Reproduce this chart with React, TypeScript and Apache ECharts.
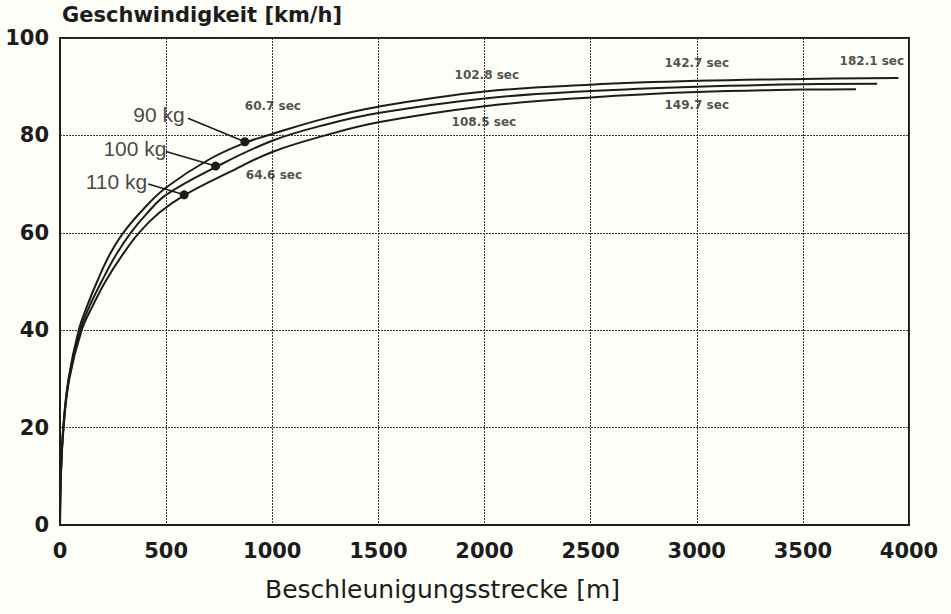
import React, { useEffect, useRef } from "react";
import * as echarts from "echarts";

// distance [m], speed [km/h]
const curve90: [number, number][] = [
  [0, 0], [4, 10], [15, 20], [40, 30], [88, 40], [128, 45], [175, 50], [230, 55.2], [298, 60],
  [400, 65.2], [500, 69.3], [700, 75.0], [873, 78.5], [1000, 80.3], [1250, 83.5], [1500, 85.9],
  [2000, 89.0], [2500, 90.4], [3000, 91.2], [3500, 91.6], [3950, 91.8],
];
const curve100: [number, number][] = [
  [0, 0], [4, 10], [16, 20], [42, 30], [95, 40], [140, 45], [196, 50], [260, 55.2], [333, 60],
  [410, 64.0], [500, 67.8], [734, 73.5], [1000, 78.9], [1250, 82.2], [1500, 84.6],
  [2000, 87.6], [2500, 89.1], [3000, 90.0], [3500, 90.5], [3850, 90.6],
];
const curve110: [number, number][] = [
  [0, 0], [4, 10], [17, 20], [44, 30], [102, 40], [154, 45], [214, 50], [290, 55.2], [372, 60],
  [470, 64.2], [585, 67.7], [800, 72.5], [1000, 76.6], [1250, 80.0], [1500, 82.7],
  [2000, 86.0], [2500, 87.8], [3000, 88.9], [3500, 89.4], [3750, 89.5],
];

const massLabels = ["90 kg", "100 kg", "110 kg"];
const massLabelPos: [number, number][] = [[466, 84.2], [353, 77.4], [266, 70.5]];
const leaderStart: [number, number][] = [[603, 83.5], [499, 76.7], [416, 70.0]];
const dots: [number, number][] = [[871, 78.7], [733, 73.7], [585, 67.8]];

const timeLabels = ["60.7 sec", "64.6 sec", "102.8 sec", "108.5 sec", "142.7 sec", "149.7 sec", "182.1 sec"];
const timeLabelPos: [number, number][] = [
  [1003, 86.0], [1008, 71.9], [2011, 92.4], [1997, 82.8], [3000, 94.9], [3000, 86.2], [3825, 95.3],
];

const xTicks = { min: 0, max: 4000, interval: 500 };
const yTicks = { min: 0, max: 100, interval: 20 };

const INK = "#1c1c1c";

export default function App() {
  const ref = useRef<HTMLDivElement>(null);
  useEffect(() => {
    if (!ref.current) return;
    const chart = echarts.init(ref.current, null, { renderer: "svg" });
    const curveSeries = [curve90, curve100, curve110].map((d) => ({
      type: "line",
      data: d,
      smooth: 0.4,
      showSymbol: false,
      symbol: "none",
      lineStyle: { color: INK, width: 2 },
      z: 3,
    }));
    const leaderSeries = dots.map((dot, i) => ({
      type: "line",
      data: [leaderStart[i], dot],
      symbol: "circle",
      symbolSize: (_v: any, p: any) => (p.dataIndex === 1 ? 9 : 0),
      showSymbol: true,
      itemStyle: { color: INK },
      lineStyle: { color: INK, width: 1.6 },
      z: 4,
    }));
    chart.setOption({
      animation: false,
      backgroundColor: "#fefef9",
      grid: {
        left: 60,
        right: 42,
        top: 38,
        bottom: 89,
        show: true,
        borderColor: INK,
        borderWidth: 2,
      },
      xAxis: {
        type: "value",
        ...xTicks,
        axisLine: { show: true, onZero: false, lineStyle: { color: INK, width: 2 } },
        axisTick: { show: false },
        splitLine: { show: true, lineStyle: { color: "#3a3a3a", width: 1, type: [2, 1] } },
        axisLabel: {
          margin: 15,
          color: INK,
          fontFamily: "DejaVu Sans",
          fontWeight: "bold",
          fontSize: 21,
          formatter: (v: number) => String(v),
        },
      },
      yAxis: {
        type: "value",
        ...yTicks,
        axisLine: { show: true, onZero: false, lineStyle: { color: INK, width: 2 } },
        axisTick: { show: false },
        splitLine: { show: true, lineStyle: { color: "#3a3a3a", width: 1, type: [2, 1] } },
        axisLabel: {
          margin: 11,
          color: INK,
          fontFamily: "DejaVu Sans",
          fontWeight: "bold",
          fontSize: 21,
        },
      },
      graphic: [
        {
          type: "text",
          left: 62,
          top: 4,
          style: {
            text: "Geschwindigkeit [km/h]",
            fill: INK,
            font: "bold 21px 'DejaVu Sans'",
          },
        },
        {
          type: "text",
          left: 265,
          top: 577,
          style: {
            text: "Beschleunigungsstrecke [m]",
            fill: INK,
            font: "25px 'DejaVu Sans'",
          },
        },
      ],
      series: [
        ...curveSeries,
        ...leaderSeries,
        {
          type: "scatter",
          data: massLabelPos.map((p, i) => ({ value: p, name: massLabels[i] })),
          symbolSize: 1,
          itemStyle: { color: "rgba(0,0,0,0)" },
          label: {
            show: true,
            position: "inside",
            formatter: (p: any) => p.name,
            color: "#151515",
            fontFamily: "Liberation Sans",
            fontSize: 21,
          },
          z: 5,
        },
        {
          type: "scatter",
          data: timeLabelPos.map((p, i) => ({ value: p, name: timeLabels[i] })),
          symbolSize: 1,
          itemStyle: { color: "rgba(0,0,0,0)" },
          label: {
            show: true,
            position: "inside",
            formatter: (p: any) => p.name,
            color: "#222",
            fontFamily: "DejaVu Sans",
            fontWeight: "bold",
            fontSize: 12,
          },
          z: 5,
        },
      ],
    });
    return () => chart.dispose();
  }, []);
  return (
    <div
      ref={ref}
      style={{ position: "absolute", left: 0, top: 0, width: 951, height: 614 }}
    />
  );
}
